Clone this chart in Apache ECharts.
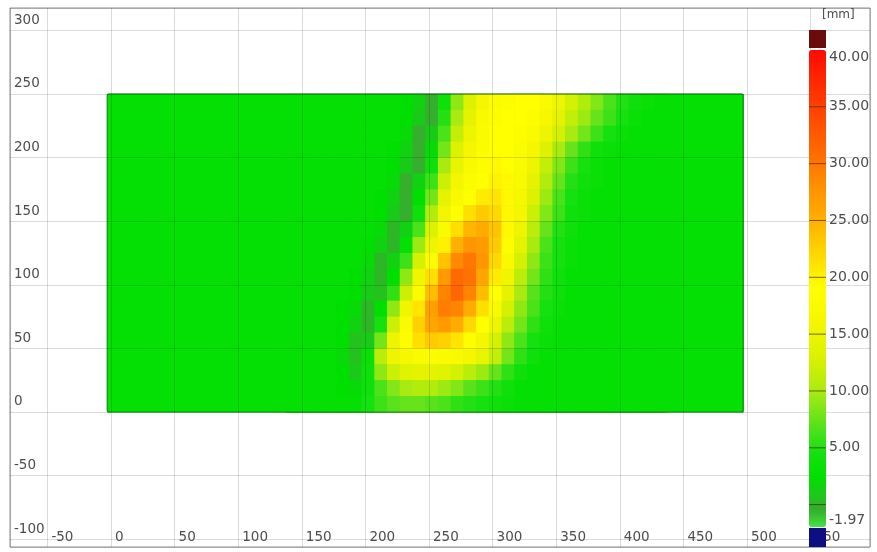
<!DOCTYPE html>
<html>
<head>
<meta charset="utf-8">
<script src="https://cdn.jsdelivr.net/npm/echarts@6/dist/echarts.min.js"></script>
<style>
  html, body { margin: 0; padding: 0; background: #ffffff; }
  #chart { width: 877px; height: 552px; }
</style>
</head>
<body>
<div id="chart"></div>
<script>
// Specimen outline and its (uniform) background displacement [mm]
const specimenX = [-3, 497];
const specimenY = [0, 250];
const backgroundDisplacement = 3;

// Detail grid around the deformation band: cell centres
const detailX = [142, 152, 162, 172, 182, 192, 202, 212, 222, 232, 242, 252, 262, 272, 282,
                 292, 302, 312, 322, 332, 342, 352, 362, 372, 382, 392, 402, 412, 422, 432];
const detailY = [243.75, 231.25, 218.75, 206.25, 193.75, 181.25, 168.75, 156.25,
                 143.75, 131.25, 118.75, 106.25, 93.75, 81.25, 68.75, 56.25,
                 43.75, 31.25, 18.75, 6.25];

// Displacement [mm] per detail cell, one row per detailY (top to bottom)
const detailDisplacement = [
  [3,3,3,3,3,3,3,3,3, 2.5,1.5,-0.5,4,9,13,16,18,18.5,19,19,17.5,15,12.5,10.5,8.5,6.5,5,4,3.5,3],
  [3,3,3,3,3,3,3,3,3, 2.5,1,-0.5,5,10,14,17,18.5,19,19,18.5,16.5,14,11.5,9.5,7.5,6,4.5,3.5,3,3],
  [3,3,3,3,3,3,3,3,3, 2,-0.5,1,6.5,11.5,15,17.5,19,19,18.5,17.5,15,12.5,10,8,6,4.5,3.5,3,3,3],
  [3,3,3,3,3,3,3,3, 2.5,1.5,-0.5,2,8,13,16,18,19,19,18,16,13,10,7.5,5.5,4,3.5,3,3,3,3],
  [3,3,3,3,3,3,3,3, 2.5,1,-0.5,4,10,14.5,17,18.5,19.5,19,17.5,15,11.5,8.5,6,4.5,3.5,3,3,3,3,3],
  [3,3,3,3,3,3,3,3, 2,-0.5,1.5,6,12,16,18,19,20,19.5,17,14,10.5,7.5,5,4,3.5,3,3,3,3,3],
  [3,3,3,3,3,3,3, 2.5,1.5,-0.5,2.5,8,14,17,19,20.5,21,19.5,16.5,13,9.5,6.5,4.5,3.5,3,3,3,3,3,3],
  [3,3,3,3,3,3,3, 2.5,1,-0.5,4,10.5,15.5,19,21.5,23,22,19.5,16,12,8.5,6,4,3.5,3,3,3,3,3,3],
  [3,3,3,3,3,3,3, 2,0,1.5,6.5,13,17.5,21.5,24.5,25.5,23.5,19.5,15,11,7.5,5,4,3,3,3,3,3,3,3],
  [3,3,3,3,3,3, 2.5,1.5,0,3,9.5,15,20,25,27.5,27,23,18.5,14,10,6.5,4.5,3.5,3,3,3,3,3,3,3],
  [3,3,3,3,3,3, 2,0,1.5,6,12.5,18,23.5,28.5,30,27.5,22,17,12.5,9,6,4.5,3.5,3,3,3,3,3,3,3],
  [3,3,3,3,3, 2.5,1.5,0,2.5,9,15.5,21.5,27,31,30.5,26,20.5,15.5,11,8,5.5,4,3,3,3,3,3,3,3,3],
  [3,3,3,3,3, 2.5,1,0.5,5.5,12,18,24,29,31.5,29,24,19,14,10,7,5,4,3,3,3,3,3,3,3,3],
  [3,3,3,3, 2.5,2,0,2.5,9,15.5,21,26.5,29.5,29,25.5,21.5,17,12.5,9,6.5,4.5,3.5,3,3,3,3,3,3,3,3],
  [3,3,3,3, 2.5,1.5,0,4.5,12,17.5,22.5,26,27,25.5,22,19,15,11,8,5.5,4,3,3,3,3,3,3,3,3,3],
  [3,3,3,3, 2.5,0.5,1,8,15,18.5,21.5,23,22.5,21,18.5,16,12.5,9,6.5,4.5,3.5,3,3,3,3,3,3,3,3,3],
  [3,3,3,3, 2,0.5,3.5,11,15,16.5,17.5,18,17.5,17,16,14.5,11.5,8,5.5,4,3,3,3,3,3,3,3,3,3,3],
  [3,3,3,3, 2.5,1,4,9,12,13.5,14,14,13.5,12.5,11,9.5,7.5,5.5,4,3,3,3,3,3,3,3,3,3,3,3],
  [3,3,3,3, 2.5,2,4,6.5,8.5,10,10.5,10.5,9.5,8.5,7,6,5,4,3,3,3,3,3,3,3,3,3,3,3,3],
  [3,3,3,3,3, 3,4.5,6,7,7.5,7.5,7,6.5,5.5,5,4.5,4,3.5,3,3,3,3,3,3,3,3,3,3,3,3]
];

// Colour scale
const scaleMin = -1.97;
const scaleMax = 40;
const colorbarLabels = [40, 35, 30, 25, 20, 15, 10, 5, -1.97];
const colorbarDividers = [0, 5, 10, 15, 20, 25, 30, 35];
const unitLabel = '[mm]';

// Colour ramp anchors (value, colour)
const rampAnchors = [
  [-1.97, '#3fe83f'], [-0.5, '#36ab2d'], [0.5, '#24c21f'], [2, '#08da08'],
  [2.5, '#00e000'], [4.5, '#14e010'], [7, '#58e21c'], [10, '#aaeb10'],
  [13, '#dcf200'], [16, '#f6f600'], [19, '#ffff00'], [22, '#ffd800'],
  [25, '#ffb000'], [28, '#ff9000'], [31, '#ff6a00'], [35, '#ff4000'], [40, '#ff0a00']
];

function hexToRgb(h) {
  return [parseInt(h.slice(1, 3), 16), parseInt(h.slice(3, 5), 16), parseInt(h.slice(5, 7), 16)];
}
function rampColor(v) {
  for (let i = 1; i < rampAnchors.length; i++) {
    if (v <= rampAnchors[i][0]) {
      const [v0, c0] = rampAnchors[i - 1];
      const [v1, c1] = rampAnchors[i];
      const t = (v - v0) / (v1 - v0);
      const a = hexToRgb(c0), b = hexToRgb(c1);
      return 'rgb(' + a.map((x, k) => Math.round(x + (b[k] - x) * t)).join(',') + ')';
    }
  }
  return rampAnchors[rampAnchors.length - 1][1];
}
const rampSteps = 160;
const rampColors = [];
for (let i = 0; i <= rampSteps; i++) {
  rampColors.push(rampColor(scaleMin + (scaleMax - scaleMin) * i / rampSteps));
}

// Field items: [x0, x1, y0, y1, displacement]; background first, detail cells on top
const cellW = detailX[1] - detailX[0];
const cellH = detailY[0] - detailY[1];
const fieldItems = [[specimenX[0], specimenX[1], specimenY[0], specimenY[1], backgroundDisplacement]];
detailY.forEach((y, r) => {
  detailX.forEach((x, c) => {
    fieldItems.push([x - cellW / 2, x + cellW / 2, y - cellH / 2, y + cellH / 2, detailDisplacement[r][c]]);
  });
});

// Layout
const PLOT = { left: 10, right: 7, top: 8, bottom: 5 };
const xRange = [-79.4, 596.7];
const yRange = [-106.1, 317.5];
const BAR = { left: 809, top: 50, width: 17, height: 477 };
const FONT = 'DejaVu Sans';
const TEXT = '#4d4d4d';

function rectBetween(api, xa, xb, ya, yb) {
  const p0 = api.coord([xa, yb]);
  const p1 = api.coord([xb, ya]);
  return { x: p0[0], y: p0[1], width: p1[0] - p0[0], height: p1[1] - p0[1] };
}

const chart = echarts.init(document.getElementById('chart'), null, { renderer: 'canvas' });

chart.setOption({
  animation: false,
  backgroundColor: '#ffffff',
  grid: [
    { left: PLOT.left, right: PLOT.right, top: PLOT.top, bottom: PLOT.bottom,
      show: true, borderColor: '#8c8c8c', borderWidth: 1, backgroundColor: 'transparent' },
    { left: BAR.left, top: BAR.top, width: BAR.width, height: BAR.height, show: false }
  ],
  xAxis: [
    { type: 'value', gridIndex: 0, min: xRange[0], max: xRange[1],
      minInterval: 50, maxInterval: 50, z: 3,
      axisLine: { show: false }, axisTick: { show: false },
      splitLine: { show: true, lineStyle: { color: 'rgba(0,0,0,0.14)', width: 1 } },
      axisLabel: { inside: true, margin: 3, align: 'left', padding: [0, 0, 0, 4],
        showMinLabel: false, showMaxLabel: false,
        color: TEXT, fontFamily: FONT, fontSize: 13.5 } },
    { type: 'value', gridIndex: 1, min: 0, max: 1, show: false }
  ],
  yAxis: [
    { type: 'value', gridIndex: 0, min: yRange[0], max: yRange[1],
      minInterval: 50, maxInterval: 50, z: 3,
      axisLine: { show: false }, axisTick: { show: false },
      splitLine: { show: true, lineStyle: { color: 'rgba(0,0,0,0.14)', width: 1 } },
      axisLabel: { inside: true, margin: 4, align: 'left', verticalAlign: 'bottom',
        padding: [0, 0, 3, 0], showMinLabel: false, showMaxLabel: false,
        color: TEXT, fontFamily: FONT, fontSize: 13.5 } },
    { type: 'value', gridIndex: 1, min: scaleMin, max: scaleMax, position: 'right', z: 10,
      axisLine: { show: false }, splitLine: { show: false }, axisTick: { show: false },
      axisLabel: { show: true, customValues: colorbarLabels, margin: 3,
        formatter: v => Number(v).toFixed(2),
        verticalAlignMaxLabel: 'bottom', verticalAlignMinLabel: 'top',
        color: TEXT, fontFamily: FONT, fontSize: 14 } }
  ],
  visualMap: {
    type: 'continuous', seriesIndex: 0, dimension: 4,
    min: scaleMin, max: scaleMax, calculable: false, hoverLink: false,
    left: BAR.left, top: BAR.top, itemWidth: BAR.width, itemHeight: BAR.height,
    padding: 0, text: null,
    inRange: { color: rampColors }
  },
  series: [
    {
      type: 'custom', xAxisIndex: 0, yAxisIndex: 0, z: 1, clip: true,
      data: fieldItems,
      encode: { x: [0, 1], y: [2, 3] },
      renderItem: (params, api) => {
        const r = rectBetween(api, api.value(0), api.value(1), api.value(2), api.value(3));
        r.width += 0.6; r.height += 0.6;
        return { type: 'rect', shape: r, style: { fill: api.visual('color') } };
      }
    },
    {
      type: 'custom', xAxisIndex: 0, yAxisIndex: 0, z: 2, silent: true,
      data: [[specimenX[0], specimenX[1], specimenY[0], specimenY[1]]],
      encode: { x: [0, 1], y: [2, 3] },
      renderItem: (params, api) => {
        const r = rectBetween(api, api.value(0), api.value(1), api.value(2), api.value(3));
        r.r = 2;
        return { type: 'rect', shape: r,
          style: { fill: 'none', stroke: 'rgba(10,110,10,0.75)', lineWidth: 1.2 } };
      }
    },
    {
      // divider lines across the colour bar
      type: 'custom', xAxisIndex: 1, yAxisIndex: 1, z: 10, silent: true,
      data: colorbarDividers.map(v => [v]),
      encode: { y: 0 },
      renderItem: (params, api) => {
        const a = api.coord([0, api.value(0)]);
        const b = api.coord([1, api.value(0)]);
        return { type: 'line', shape: { x1: a[0], y1: a[1], x2: b[0], y2: b[1] },
          style: { stroke: 'rgba(70,40,0,0.7)', lineWidth: 1 } };
      }
    }
  ],
  graphic: [
    { type: 'rect', z: 100, left: BAR.left, top: BAR.top - 20,
      shape: { width: BAR.width, height: 18 }, style: { fill: '#6a0c0c' } },
    { type: 'rect', z: 100, left: BAR.left, top: BAR.top + BAR.height + 1,
      shape: { width: BAR.width, height: 19 }, style: { fill: '#0e0e82' } },
    { type: 'text', z: 100, left: 822, top: 9,
      style: { text: unitLabel, fill: TEXT, font: '12px "DejaVu Sans"' } }
  ]
});
</script>
</body>
</html>
